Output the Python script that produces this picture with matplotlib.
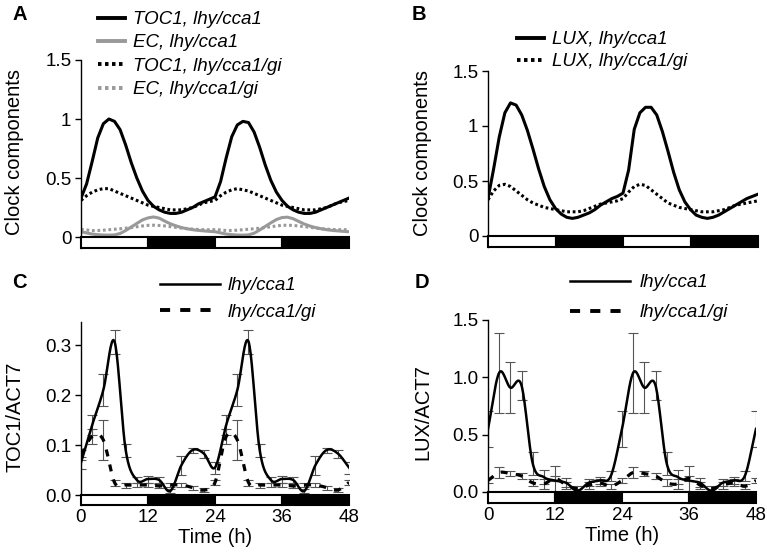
import numpy as np
import matplotlib
matplotlib.use("Agg")
import matplotlib.pyplot as plt
from matplotlib.lines import Line2D

plt.rcParams['font.family'] = ['Liberation Sans', 'DejaVu Sans']

# ---------------- data ----------------
model_time = list(range(0, 49))

toc1_lhy = [0.33, 0.45, 0.64, 0.84, 0.96, 1.00, 0.98, 0.91, 0.78, 0.63, 0.50, 0.39, 0.31,
            0.26, 0.23, 0.21, 0.20, 0.20, 0.21, 0.23, 0.25, 0.28, 0.30, 0.32, 0.34,
            0.47, 0.67, 0.85, 0.95, 0.98, 0.97, 0.89, 0.76, 0.61, 0.48, 0.38, 0.31,
            0.26, 0.23, 0.21, 0.20, 0.20, 0.21, 0.23, 0.25, 0.27, 0.29, 0.31, 0.33]
toc1_gi = [0.31, 0.35, 0.38, 0.40, 0.41, 0.41, 0.39, 0.37, 0.35, 0.33, 0.31, 0.29, 0.27,
           0.26, 0.25, 0.24, 0.23, 0.23, 0.23, 0.24, 0.25, 0.27, 0.29, 0.30, 0.31,
           0.35, 0.38, 0.40, 0.41, 0.40, 0.39, 0.37, 0.35, 0.33, 0.31, 0.29, 0.27,
           0.26, 0.25, 0.24, 0.23, 0.23, 0.23, 0.24, 0.25, 0.27, 0.29, 0.30, 0.31]
ec_lhy = [0.045, 0.035, 0.025, 0.020, 0.017, 0.016, 0.018, 0.030, 0.055, 0.085, 0.115, 0.145, 0.162,
          0.170, 0.160, 0.135, 0.112, 0.095, 0.080, 0.070, 0.062, 0.056, 0.052, 0.048, 0.045,
          0.035, 0.025, 0.020, 0.017, 0.016, 0.018, 0.032, 0.060, 0.090, 0.120, 0.148, 0.165,
          0.168, 0.155, 0.132, 0.110, 0.093, 0.080, 0.070, 0.062, 0.056, 0.052, 0.048, 0.045]
ec_gi = [0.065, 0.060, 0.055, 0.055, 0.058, 0.062, 0.066, 0.070, 0.075, 0.080, 0.087, 0.094, 0.099,
         0.100, 0.098, 0.094, 0.088, 0.082, 0.076, 0.071, 0.067, 0.064, 0.062, 0.062, 0.063,
         0.060, 0.055, 0.055, 0.058, 0.062, 0.066, 0.070, 0.075, 0.080, 0.087, 0.094, 0.099,
         0.100, 0.098, 0.094, 0.088, 0.082, 0.076, 0.071, 0.067, 0.064, 0.062, 0.062, 0.063]

lux_lhy = [0.34, 0.61, 0.90, 1.12, 1.21, 1.19, 1.10, 0.96, 0.79, 0.61, 0.45, 0.33, 0.25,
           0.20, 0.17, 0.16, 0.17, 0.19, 0.21, 0.24, 0.28, 0.31, 0.34, 0.36, 0.39,
           0.60, 0.97, 1.12, 1.17, 1.17, 1.10, 0.95, 0.77, 0.58, 0.42, 0.31, 0.24,
           0.19, 0.17, 0.16, 0.17, 0.19, 0.22, 0.25, 0.28, 0.31, 0.34, 0.36, 0.38]
lux_gi = [0.33, 0.41, 0.46, 0.47, 0.45, 0.41, 0.37, 0.33, 0.30, 0.28, 0.26, 0.25, 0.24,
          0.23, 0.22, 0.22, 0.22, 0.23, 0.25, 0.27, 0.29, 0.30, 0.31, 0.32, 0.34,
          0.40, 0.45, 0.47, 0.46, 0.42, 0.38, 0.34, 0.30, 0.28, 0.26, 0.25, 0.24,
          0.23, 0.22, 0.22, 0.22, 0.23, 0.24, 0.26, 0.28, 0.29, 0.30, 0.31, 0.32]

meas_time = list(range(0, 49, 2))

toc1_meas_lhy = [0.065, 0.140, 0.210, 0.307, 0.090, 0.030, 0.032, 0.030, 0.008, 0.060, 0.090, 0.083, 0.055,
                 0.140, 0.210, 0.307, 0.090, 0.030, 0.032, 0.030, 0.008, 0.060, 0.090, 0.083, 0.055]
toc1_err_lhy = [0.012, 0.020, 0.032, 0.024, 0.013, 0.006, 0.007, 0.006, 0.004, 0.019, 0.005, 0.008, 0.012,
                0.020, 0.032, 0.024, 0.013, 0.006, 0.007, 0.006, 0.004, 0.019, 0.005, 0.008, 0.012]
toc1_meas_gi = [0.080, 0.117, 0.110, 0.025, 0.020, 0.020, 0.020, 0.018, 0.020, 0.020, 0.015, 0.010, 0.025,
                0.117, 0.110, 0.025, 0.020, 0.020, 0.020, 0.018, 0.020, 0.020, 0.015, 0.010, 0.025]
toc1_err_gi = [0.010, 0.015, 0.040, 0.006, 0.005, 0.004, 0.004, 0.004, 0.004, 0.004, 0.004, 0.004, 0.005,
               0.015, 0.040, 0.006, 0.005, 0.004, 0.004, 0.004, 0.004, 0.004, 0.004, 0.004, 0.005]

lux_meas_lhy = [0.55, 1.04, 0.91, 0.93, 0.25, 0.13, 0.10, 0.08, 0.01, 0.08, 0.10, 0.14, 0.55,
                1.04, 0.91, 0.93, 0.25, 0.13, 0.10, 0.08, 0.01, 0.08, 0.10, 0.14, 0.55]
lux_err_lhy = [0.155, 0.35, 0.225, 0.125, 0.10, 0.06, 0.13, 0.04, 0.02, 0.03, 0.03, 0.04, 0.155,
               0.35, 0.225, 0.125, 0.10, 0.06, 0.13, 0.04, 0.02, 0.03, 0.03, 0.04, 0.155]
lux_meas_gi = [0.10, 0.17, 0.16, 0.14, 0.08, 0.07, 0.12, 0.06, 0.03, 0.06, 0.08, 0.05, 0.10,
               0.17, 0.16, 0.14, 0.08, 0.07, 0.12, 0.06, 0.03, 0.06, 0.08, 0.05, 0.10]
lux_err_gi = [0.02, 0.05, 0.02, 0.03, 0.03, 0.04, 0.02, 0.03, 0.02, 0.03, 0.03, 0.02, 0.02,
              0.05, 0.02, 0.03, 0.03, 0.04, 0.02, 0.03, 0.02, 0.03, 0.03, 0.02, 0.02]

ld_starts = [0, 12, 24, 36]
ld_colors = ['white', 'black', 'white', 'black']

x_ticks = [0, 12, 24, 36, 48]


def catmull_rom(x, y, n=20):
    x = np.asarray(x, float)
    y = np.asarray(y, float)
    px = np.concatenate([[2 * x[0] - x[1]], x, [2 * x[-1] - x[-2]]])
    py = np.concatenate([[2 * y[0] - y[1]], y, [2 * y[-1] - y[-2]]])
    s = np.linspace(0, 1, n, endpoint=False)
    xs, ys = [], []
    for i in range(1, len(px) - 2):
        p0, p1, p2, p3 = py[i - 1], py[i], py[i + 1], py[i + 2]
        ys.append(0.5 * (2 * p1 + (-p0 + p2) * s + (2 * p0 - 5 * p1 + 4 * p2 - p3) * s ** 2
                         + (-p0 + 3 * p1 - 3 * p2 + p3) * s ** 3))
        xs.append(px[i] + (px[i + 1] - px[i]) * s)
    xs.append([x[-1]])
    ys.append([y[-1]])
    return np.concatenate(xs), np.concatenate(ys)


W, H = 767, 560
FS_TICK = 13.5
FS_LAB = 14.5
FS_LEG = 13.5
fig = plt.figure(figsize=(W / 100, H / 100), dpi=100)


def make_axes(left, right, top, bottom):
    return fig.add_axes([left / W, 1 - bottom / H, (right - left) / W, (bottom - top) / H])


def style(ax, ymin, ymax, yticks, ylabels, bar_bottom):
    ax.set_xlim(0, 48)
    ax.set_ylim(ymin, ymax)
    for s in ['top', 'right', 'bottom']:
        ax.spines[s].set_visible(False)
    ax.spines['left'].set_linewidth(1.0)
    ax.set_yticks(yticks)
    ax.set_yticklabels(ylabels)
    ax.tick_params(axis='y', direction='out', length=4, width=1, labelsize=FS_TICK, pad=3)
    ax.bar(ld_starts, [0 - bar_bottom] * 4, width=12, bottom=bar_bottom, align='edge',
           color=ld_colors, edgecolor='black', linewidth=1.5, clip_on=False, zorder=5)


dot = (0, (0.9, 0.9))
dash = (0, (2.2, 2.6))
gray = '#999999'
leg_prop = {'style': 'italic', 'size': FS_LEG}

# ---------------- Panel A ----------------
axA = make_axes(81, 349, 60, 248)
style(axA, -0.093, 1.5, [0, 0.5, 1, 1.5], ['0', '0.5', '1', '1.5'], -0.093)
axA.set_xticks([])
axA.plot(model_time, ec_lhy, color=gray, lw=2.2, solid_capstyle='butt', label='EC, lhy/cca1', zorder=2)
axA.plot(model_time, ec_gi, color=gray, lw=2.2, ls=dot, label='EC, lhy/cca1/gi', zorder=2)
axA.plot(model_time, toc1_gi, color='black', lw=2.2, ls=dot, label='TOC1, lhy/cca1/gi', zorder=3)
axA.plot(model_time, toc1_lhy, color='black', lw=2.2, label='TOC1, lhy/cca1', zorder=4)
axA.set_ylabel('Clock components', fontsize=FS_LAB, va='center')
axA.yaxis.set_label_coords((14 - 81) / 268, (248 - 152) / 188)
hA = [Line2D([], [], color='black', lw=2.8), Line2D([], [], color=gray, lw=2.8),
      Line2D([], [], color='black', lw=2.8, ls=dot), Line2D([], [], color=gray, lw=2.8, ls=dot)]
axA.legend(hA, ['TOC1, lhy/cca1', 'EC, lhy/cca1', 'TOC1, lhy/cca1/gi', 'EC, lhy/cca1/gi'],
           loc='upper left', bbox_to_anchor=(98 / W, 1 - 11 / H), bbox_transform=fig.transFigure,
           frameon=False, handlelength=1.45, handletextpad=0.4, labelspacing=0.33,
           borderpad=0, borderaxespad=0, prop=leg_prop)

# ---------------- Panel B ----------------
axB = make_axes(488, 758, 71, 247)
style(axB, -0.1, 1.5, [0, 0.5, 1, 1.5], ['0', '0.5', '1', '1.5'], -0.1)
axB.set_xticks([])
axB.plot(model_time, lux_gi, color='black', lw=2.2, ls=dot, label='LUX, lhy/cca1/gi', zorder=3)
axB.plot(model_time, lux_lhy, color='black', lw=2.2, label='LUX, lhy/cca1', zorder=4)
axB.set_ylabel('Clock components', fontsize=FS_LAB, va='center')
axB.yaxis.set_label_coords((422 - 488) / 270, (247 - 153) / 176)
hB = [Line2D([], [], color='black', lw=2.8), Line2D([], [], color='black', lw=2.8, ls=dot)]
axB.legend(hB, ['LUX, lhy/cca1', 'LUX, lhy/cca1/gi'],
           loc='upper left', bbox_to_anchor=(517 / W, 1 - 31 / H), bbox_transform=fig.transFigure,
           frameon=False, handlelength=1.45, handletextpad=0.4, labelspacing=0.28,
           borderpad=0, borderaxespad=0, prop=leg_prop)


def measured_panel(ax, y_lhy, e_lhy, y_gi, e_gi):
    ax.errorbar(meas_time, y_gi, yerr=e_gi, fmt='none', ecolor='#555555', elinewidth=0.8,
                capsize=3.3, capthick=0.8, zorder=2)
    ax.errorbar(meas_time, y_lhy, yerr=e_lhy, fmt='none', ecolor='#555555', elinewidth=0.8,
                capsize=3.3, capthick=0.8, zorder=2)
    xs, ys = catmull_rom(meas_time, y_gi)
    ax.plot(xs, ys, color='black', lw=2.3, ls=dash, zorder=3)
    xs, ys = catmull_rom(meas_time, y_lhy)
    ax.plot(xs, ys, color='black', lw=1.8, zorder=4)
    ax.set_xticks(x_ticks)
    ax.set_xticklabels([str(t) for t in x_ticks])
    ax.tick_params(axis='x', length=0, labelsize=FS_TICK, pad=3)
    ax.set_xlabel('Time (h)', fontsize=FS_LAB, labelpad=1)


# ---------------- Panel C ----------------
axC = make_axes(81, 349, 322, 505)
style(axC, -0.02, 0.346, [0, 0.1, 0.2, 0.3], ['0.0', '0.1', '0.2', '0.3'], -0.02)
measured_panel(axC, toc1_meas_lhy, toc1_err_lhy, toc1_meas_gi, toc1_err_gi)
axC.set_ylabel('TOC1/ACT7', fontsize=FS_LAB, va='center')
axC.yaxis.set_label_coords((15 - 81) / 268, (505 - 417) / 183)
hC = [Line2D([], [], color='black', lw=1.8), Line2D([], [], color='black', lw=2.8, ls=(0, (2.6, 2.6)))]
axC.legend(hC, ['lhy/cca1', 'lhy/cca1/gi'],
           loc='upper left', bbox_to_anchor=(160 / W, 1 - 277 / H), bbox_transform=fig.transFigure,
           frameon=False, handlelength=3.2, handletextpad=0.4, labelspacing=0.5,
           borderpad=0, borderaxespad=0, prop=leg_prop)

# ---------------- Panel D ----------------
axD = make_axes(488, 756, 320, 503)
style(axD, -0.096, 1.5, [0, 0.5, 1.0, 1.5], ['0.0', '0.5', '1.0', '1.5'], -0.096)
measured_panel(axD, lux_meas_lhy, lux_err_lhy, lux_meas_gi, lux_err_gi)
axD.set_ylabel('LUX/ACT7', fontsize=FS_LAB, va='center')
axD.yaxis.set_label_coords((423 - 488) / 268, (503 - 412) / 183)
hD = [Line2D([], [], color='black', lw=1.8), Line2D([], [], color='black', lw=2.8, ls=(0, (2.6, 2.6)))]
axD.legend(hD, ['lhy/cca1', 'lhy/cca1/gi'],
           loc='upper left', bbox_to_anchor=(570 / W, 1 - 274 / H), bbox_transform=fig.transFigure,
           frameon=False, handlelength=3.2, handletextpad=0.5, labelspacing=0.7,
           borderpad=0, borderaxespad=0, prop=leg_prop)

# panel letters
for letter, (px_, py_) in zip('ABCD', [(12, 15), (412, 15), (12, 282), (415, 282)]):
    fig.text(px_ / W, 1 - py_ / H, letter, fontsize=14.5, fontweight='bold', ha='left', va='center')

fig.savefig('out.png', dpi=100)
